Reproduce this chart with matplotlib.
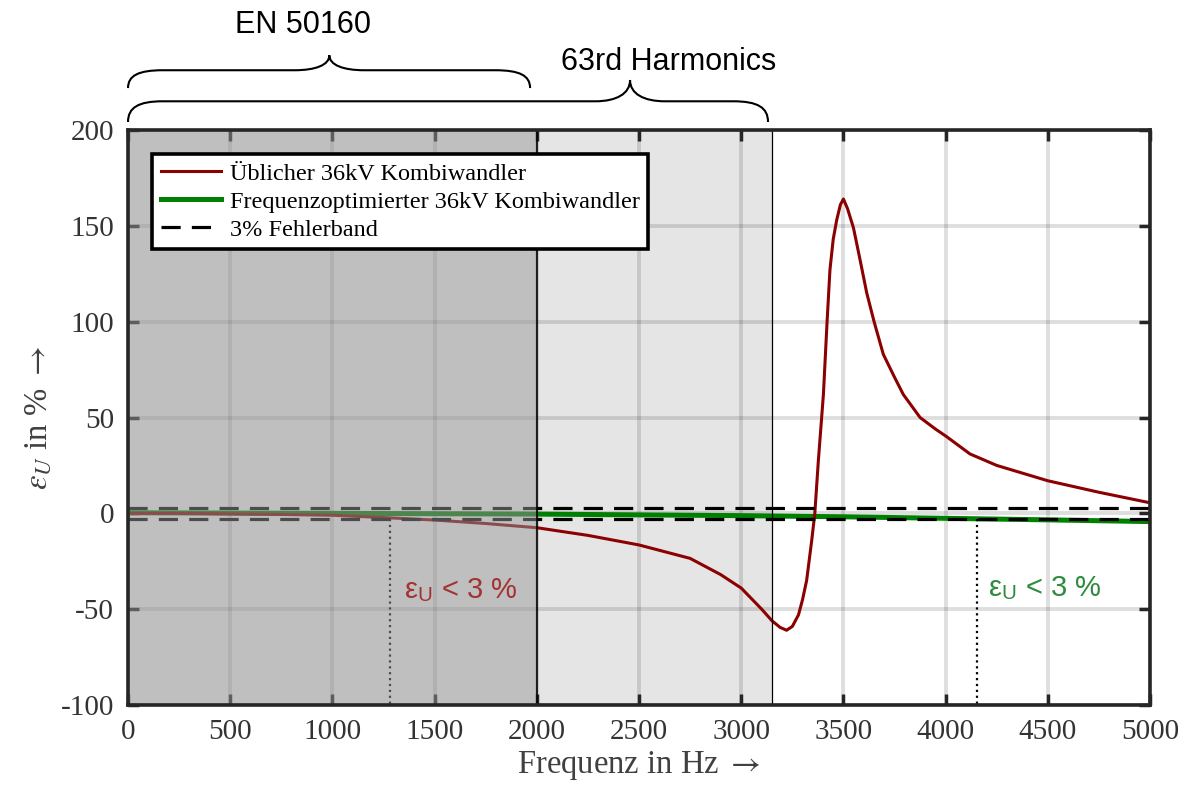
import matplotlib
matplotlib.use("Agg")
import matplotlib.pyplot as plt
from matplotlib.path import Path
from matplotlib.patches import PathPatch
from matplotlib.transforms import blended_transform_factory

plt.rcParams['font.family'] = ['Liberation Serif', 'DejaVu Serif']
plt.rcParams['mathtext.fontset'] = 'stix'
plt.rcParams['axes.unicode_minus'] = False

# red curve: usual 36kV combined transformer
f_std = [0, 250, 500, 750, 1000, 1250, 1500, 1750, 2000, 2250, 2500, 2750, 2900,
         3000, 3100, 3150, 3190, 3222, 3250, 3280, 3300, 3320, 3345, 3360, 3377,
         3402, 3420, 3434, 3450, 3467, 3485, 3500, 3520, 3549, 3580, 3614, 3650,
         3695, 3750, 3793, 3875, 3950, 4005, 4119, 4250, 4500, 4750, 5000]
e_std = [0, 0, -0.3, -0.6, -1.0, -2.2, -3.5, -5.3, -7.5, -11.5, -16.5, -23.5, -32,
         -39, -50, -56, -59.5, -61, -59, -53, -45, -35, -14, 0, 27,
         62, 100, 127, 143, 153, 161, 164, 159, 149, 133, 115, 100,
         83, 71, 62, 50, 44, 40, 31, 25, 17, 11, 5.5]

# green curve: frequency-optimised transformer
f_opt = [0, 1000, 2000, 2500, 3000, 3500, 4000, 4500, 5000]
e_opt = [0.3, 0, -0.4, -0.8, -1.2, -1.8, -2.6, -3.4, -4.3]

band = 3
f_lim_std = 1280
f_lim_opt = 4155
f_en = 2000
f_h63 = 3150

xticks = [0, 500, 1000, 1500, 2000, 2500, 3000, 3500, 4000, 4500, 5000]
yticks = [-100, -50, 0, 50, 100, 150, 200]

fig = plt.figure(figsize=(11.91, 7.90), dpi=100)
ax = fig.add_axes([0.1075, 0.1076, 0.8581, 0.7278])

ax.set_xlim(0, 5000)
ax.set_ylim(-100, 200)

# shaded frequency ranges
ax.axvspan(f_en, f_h63, color='#e5e5e5', zorder=0.2, lw=0)
ax.axvspan(0, f_en, color='#8c8c8c', alpha=0.55, zorder=2.6, lw=0)
ax.axvline(f_en, color='black', lw=1.2, zorder=3)
ax.axvline(f_h63, color='black', lw=0.9, zorder=3)

ax.plot(f_std, e_std, color='#8b0000', lw=2.2, zorder=2.2, label='Üblicher 36kV Kombiwandler')
ax.plot(f_opt, e_opt, color='#008000', lw=3.6, zorder=2.1, label='Frequenzoptimierter 36kV Kombiwandler')
ax.axhline(band, color='black', lw=2.3, dashes=(6, 3.5), zorder=2.3, label='3% Fehlerband')
ax.axhline(-band, color='black', lw=2.3, dashes=(6, 3.5), zorder=2.3)

ax.plot([f_lim_std, f_lim_std], [-band, -100], color='black', lw=1.6, ls=':', zorder=2.4)
ax.plot([f_lim_opt, f_lim_opt], [-band, -100], color='black', lw=1.6, ls=':', zorder=2.4)

ax.text(1350, -40, 'ε$_\\mathregular{U}$ < 3 %', color='#a33232', fontsize=21,
        family=['Liberation Sans', 'DejaVu Sans'], va='center', ha='left', zorder=4)
ax.text(4205, -39, 'ε$_\\mathregular{U}$ < 3 %', color='#2e8a3c', fontsize=21,
        family=['Liberation Sans', 'DejaVu Sans'], va='center', ha='left', zorder=4)

ax.set_xticks(xticks)
ax.set_yticks(yticks)
ax.grid(True, color='black', alpha=0.13, lw=2.8)
ax.set_axisbelow(True)
ax.tick_params(direction='in', length=8, width=2.5, top=True, right=True,
               labelsize=21, labelcolor='#333333', color='#262626', pad=10)
for s in ax.spines.values():
    s.set_linewidth(2.6)
    s.set_color('#262626')
    s.set_zorder(5)

ax.set_xlabel('Frequenz in Hz $\\rightarrow$', fontsize=23.5, color='#404040', labelpad=3)
ax.set_ylabel('$\\varepsilon_U$ in % $\\rightarrow$', fontsize=23.5, color='#404040', labelpad=5)

leg = ax.legend(loc='upper left', bbox_to_anchor=(0.0235, 0.958), borderaxespad=0,
                fontsize=17.5, fancybox=False, framealpha=1, edgecolor='black',
                handlelength=2.5, handletextpad=0.35, labelspacing=0.25, borderpad=0.35)
leg.get_frame().set_linewidth(2.6)
leg.set_zorder(6)


def brace(x0, x1, xm, yb, yh, yt, r):
    tr = blended_transform_factory(ax.transData, ax.transAxes)
    verts = [(x0, yb), (x0, yb + (yh - yb) * 0.7), (x0 + r * 0.3, yh), (x0 + r, yh),
             (xm - r, yh),
             (xm - r * 0.4, yh), (xm, yh + (yt - yh) * 0.35), (xm, yt),
             (xm, yh + (yt - yh) * 0.35), (xm + r * 0.4, yh), (xm + r, yh),
             (x1 - r, yh),
             (x1 - r * 0.3, yh), (x1, yb + (yh - yb) * 0.7), (x1, yb)]
    codes = [Path.MOVETO, Path.CURVE4, Path.CURVE4, Path.CURVE4,
             Path.LINETO,
             Path.CURVE4, Path.CURVE4, Path.CURVE4,
             Path.CURVE4, Path.CURVE4, Path.CURVE4,
             Path.LINETO,
             Path.CURVE4, Path.CURVE4, Path.CURVE4]
    p = PathPatch(Path(verts, codes), transform=tr, fill=False, lw=1.5,
                  edgecolor='black', clip_on=False)
    ax.add_patch(p)


brace(0, 1967, 985, 1.073, 1.104, 1.130, 170)
brace(0, 3131, 2456, 1.014, 1.050, 1.087, 170)

tr_top = blended_transform_factory(ax.transData, ax.transAxes)
ax.text(856, 1.183, 'EN 50160', transform=tr_top, fontsize=22, ha='center', va='center',
        family=['Liberation Sans', 'DejaVu Sans'], clip_on=False)
ax.text(2647, 1.118, '63rd Harmonics', transform=tr_top, fontsize=22, ha='center', va='center',
        family=['Liberation Sans', 'DejaVu Sans'], clip_on=False)

fig.savefig('out.png', dpi=100)
